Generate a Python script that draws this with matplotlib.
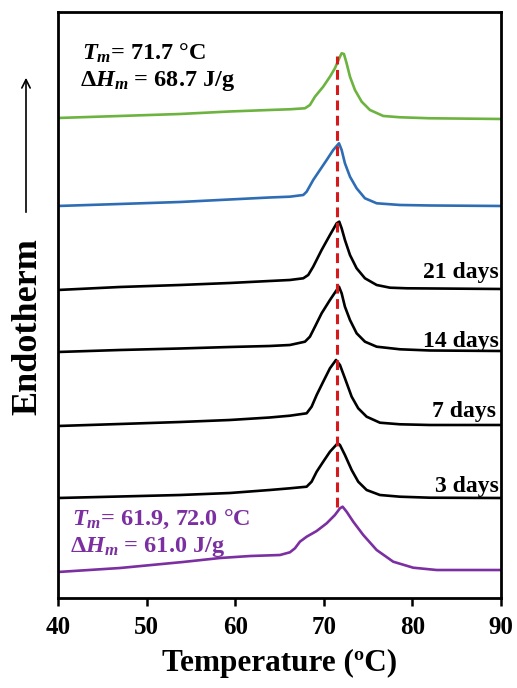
import matplotlib
matplotlib.use("Agg")
import matplotlib.pyplot as plt
import matplotlib.patches as mpatches

plt.rcParams['font.family'] = ['Liberation Serif', 'DejaVu Serif']
plt.rcParams['font.weight'] = 'bold'
plt.rcParams['mathtext.fontset'] = 'custom'
plt.rcParams['mathtext.rm'] = 'Liberation Serif:bold'
plt.rcParams['mathtext.it'] = 'Liberation Serif:italic:bold'
plt.rcParams['mathtext.bf'] = 'Liberation Serif:bold'

# ---- data (temperature in °C, heat flow in arbitrary offset units) ----
green_T = [40.0, 47.0, 53.8, 59.4, 63.9, 66.18, 67.88, 68.44, 69.01, 69.94, 70.70, 71.26, 71.83, 72.02, 72.28, 72.58, 72.96, 73.52, 74.28, 75.21, 76.72, 78.60, 81.99, 90.0]
green_y = [480, 482, 484, 486.5, 488, 488.7, 489.7, 493, 501.3, 511.3, 521.3, 529.7, 541.3, 544.7, 544, 534.7, 521.3, 508, 496.3, 488, 482, 480.7, 479.7, 479]

blue_T = [40.0, 47.0, 53.8, 59.4, 63.9, 66.18, 67.69, 68.07, 68.81, 69.57, 70.33, 71.07, 71.72, 72.02, 72.39, 72.96, 73.71, 74.65, 75.97, 78.60, 81.99, 90.0]
blue_y = [392, 394, 396, 398.5, 400.5, 401.3, 403, 406.3, 418, 428, 438, 448, 454.7, 448, 434.7, 421.3, 409.7, 399.7, 394.7, 393, 392.5, 392]

d21_T = [40.0, 47.0, 53.8, 59.4, 63.9, 66.18, 67.69, 68.25, 68.81, 69.76, 70.70, 71.46, 71.75, 72.02, 72.39, 72.96, 73.71, 74.65, 75.97, 77.47, 79.36, 90.0]
d21_y = [308, 311, 313, 315, 317, 318, 319.7, 323, 331.3, 348, 363, 374.7, 376.3, 369.7, 358, 343, 329.7, 319.7, 313, 310.3, 309.7, 309]

d14_T = [40.0, 47.0, 53.8, 59.4, 63.9, 66.18, 67.88, 68.44, 69.01, 69.76, 70.70, 71.46, 71.72, 72.02, 72.39, 72.96, 73.71, 74.65, 75.97, 78.60, 82.0, 90.0]
d14_y = [246, 248, 249.5, 251, 252, 253, 256.3, 261.3, 271.3, 284.7, 298, 308, 311.3, 304.7, 291.3, 278, 264.7, 256.3, 251.3, 248.7, 247.5, 247]

d7_T = [40.0, 47.0, 53.8, 59.4, 63.9, 66.18, 68.07, 68.63, 69.20, 69.94, 70.70, 71.38, 71.83, 72.39, 73.15, 73.89, 74.84, 76.34, 78.60, 81.99, 90.0]
d7_y = [172, 174, 176, 178, 180.5, 182.3, 184.7, 191.3, 203, 216.3, 229.7, 238, 233, 219.7, 201.3, 189.7, 181.3, 175.3, 173.7, 173, 173]

d3_T = [40.0, 47.0, 53.8, 59.4, 63.9, 66.18, 68.07, 68.63, 69.20, 69.94, 70.70, 71.57, 71.83, 72.39, 73.15, 73.89, 74.84, 76.34, 78.60, 81.99, 90.0]
d3_y = [100, 101.5, 103, 105, 108, 109.7, 111.3, 116.3, 126.3, 136.3, 146.3, 154.7, 153, 143, 128, 116.3, 108, 103, 101.3, 100.3, 100]

purple_T = [40.0, 47.0, 54.1, 58.3, 61.7, 65.06, 66.18, 66.75, 67.31, 68.07, 69.20, 70.33, 71.26, 71.83, 72.13, 72.58, 73.33, 74.46, 75.97, 77.84, 80.10, 82.74, 90.0]
purple_y = [26, 30, 36, 40, 42, 43, 45.7, 49.7, 56.3, 61.3, 67, 74.7, 83, 89.7, 91.3, 86.3, 76.3, 63, 48, 36.3, 30.3, 28, 28]

day_labels = ['21 days', '14 days', '7 days', '3 days']
day_label_x = [89.8, 89.8, 89.4, 89.8]
day_label_y = [320, 251, 181, 106]
xticks = [40, 50, 60, 70, 80, 90]
tm_line_T = 71.55
tm_line_y = [91, 542]

# ---- figure ----
fig = plt.figure(figsize=(5.17, 6.88), dpi=100)
ax = fig.add_axes([0.112, 0.1308, 0.857, 0.8518])

lw = 1.9
style = dict(lw=lw, solid_joinstyle='round', solid_capstyle='round')
ax.plot(green_T, green_y, color='#6DB33F', **style)
ax.plot(blue_T, blue_y, color='#2E6DB4', **style)
for T, y in [(d21_T, d21_y), (d14_T, d14_y), (d7_T, d7_y), (d3_T, d3_y)]:
    ax.plot(T, y, color='black', **style)
ax.plot(purple_T, purple_y, color='#7B2FA0', **style)

ax.plot([tm_line_T, tm_line_T], tm_line_y, color='#D7191C', lw=2.2, dashes=(3.2, 1.8))

for lab, x, y in zip(day_labels, day_label_x, day_label_y):
    ax.text(x, y, lab, ha='right', va='baseline', fontsize=17, fontweight='bold', color='black')

ann = dict(fontsize=17.5, fontweight='bold', va='baseline')
ax.text(42.7, 538, r'$T_m$= 71.7 °C', color='black', **ann)
ax.text(42.5, 512, r'$\mathit{ΔH_m}$ = 68.7 J/g', color='black', **ann)
ax.text(41.6, 73, r'$T_m$= 61.9, 72.0 °C', color='#7B2FA0', **ann)
ax.text(41.35, 46, r'$\mathit{ΔH_m}$ = 61.0 J/g', color='#7B2FA0', **ann)

ax.set_xlim(40, 90)
ax.set_ylim(0, 586)
ax.set_yticks([])
ax.set_xticks(xticks)
ax.set_xticklabels([str(t) for t in xticks], fontsize=18, fontweight='bold')
ax.tick_params(axis='x', direction='out', length=6, width=1.8, pad=7)
for s in ax.spines.values():
    s.set_linewidth(2.0)
ax.set_xlabel('Temperature (ºC)', fontsize=22.5, fontweight='bold', labelpad=7)

fig.text(28 / 517, 1 - 327 / 688, 'Endotherm', rotation=90, ha='center', va='center',
         fontsize=26, fontweight='bold')
fig.add_artist(mpatches.FancyArrowPatch(
    (26 / 517, 1 - 215 / 688), (26 / 517, 1 - 75 / 688), transform=fig.transFigure,
    arrowstyle='->,head_length=6,head_width=3', lw=1.2, color='black'))

fig.savefig('out.png', dpi=100)
